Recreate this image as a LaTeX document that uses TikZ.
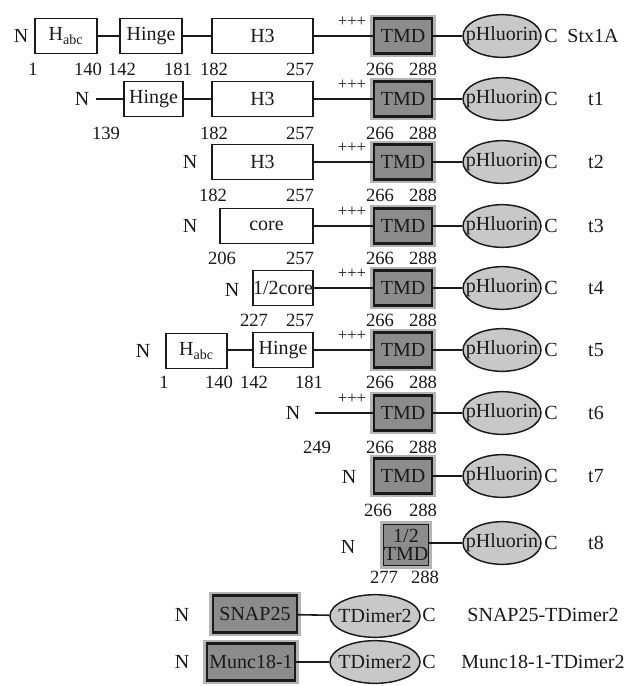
\documentclass[tikz,border=0pt]{standalone}
\usepackage{fontspec}
\setmainfont{Liberation Serif}
\usetikzlibrary{shapes.geometric}
\definecolor{tmdgray}{HTML}{8C8C8C}
\definecolor{halogray}{HTML}{B4B4B4}
\definecolor{ellgray}{HTML}{C8C8C8}
\definecolor{ink}{HTML}{1A1A1A}
\begin{document}
\begin{tikzpicture}[x=0.75pt,y=-0.75pt,
 every node/.style={font=\fontsize{15}{17}\selectfont, text=ink},
 wbox/.style={draw=ink, line width=1.1pt, fill=white, minimum height=26.25pt, inner sep=0pt},
 tmdbox/.style={draw=ink, line width=1.6pt, fill=tmdgray, minimum height=26.25pt, minimum width=43.5pt, inner sep=0pt, preaction={draw=halogray, line width=5.5pt}},
 fp/.style={ellipse, draw=ink, line width=1.1pt, fill=ellgray, minimum width=58.5pt, minimum height=32pt, inner xsep=-6.4pt, inner ysep=0pt},
 td/.style={fp, minimum width=67.5pt, minimum height=32pt, inner xsep=-3.6pt},
 conn/.style={draw=ink, line width=1.2pt},
 num/.style={inner sep=0pt, font=\fontsize{14}{16}\selectfont},
 plus/.style={font=\fontsize{12.5}{13}\selectfont, inner sep=0pt},
 lab/.style={inner sep=0pt}]
\useasboundingbox (0,0) rectangle (624,686);

% ---------- Stx1A ----------
\node[lab] (r1N) at (21,36) {N};
\node[wbox, minimum width=46.5pt] (r1habc) at (66,36) {H\textsubscript{abc}};
\node[wbox, minimum width=46.5pt] (r1hinge) at (151,36) {Hinge};
\node[wbox, minimum width=75.75pt] (r1h3) at (262.5,36) {H3};
\node[tmdbox] (r1tmd) at (403,36) {TMD};
\node[fp] (r1fp) at (502,36) {pHluorin};
\node[lab] (r1C) at (551,36) {C};
\node[lab] (r1lab) at (593,36) {Stx1A};
\node[plus] (r1p) at (352,22) {+++};
\draw[conn] (r1habc) -- (r1hinge);
\draw[conn] (r1hinge) -- (r1h3);
\draw[conn] (r1h3) -- (r1tmd);
\draw[conn] (r1tmd) -- (r1fp);
\node[num] (r1n1) at (33,69) {1};
\node[num] (r1n2) at (88,69) {140};
\node[num] (r1n3) at (122,69) {142};
\node[num] (r1n4) at (178,69) {181};
\node[num] (r1n5) at (214,69) {182};
\node[num] (r1n6) at (300,69) {257};
\node[num] (r1n7) at (380,69) {266};
\node[num] (r1n8) at (423,69) {288};

% ---------- t1 ----------
\node[lab] (t1N) at (82,99) {N};
\coordinate (t1s) at (96,99);
\node[wbox, minimum width=44.25pt] (t1hinge) at (153.5,99) {Hinge};
\node[wbox, minimum width=75.75pt] (t1h3) at (262.5,99) {H3};
\node[tmdbox] (t1tmd) at (403,99) {TMD};
\node[fp] (t1fp) at (502,99) {pHluorin};
\node[lab] (t1C) at (551,99) {C};
\node[lab] (t1lab) at (596,99) {t1};
\node[plus] (t1p) at (352,85) {+++};
\draw[conn] (t1s) -- (t1hinge);
\draw[conn] (t1hinge) -- (t1h3);
\draw[conn] (t1h3) -- (t1tmd);
\draw[conn] (t1tmd) -- (t1fp);
\node[num] (t1n1) at (106,133) {139};
\node[num] (t1n2) at (214,133) {182};
\node[num] (t1n3) at (300,133) {257};
\node[num] (t1n4) at (380,133) {266};
\node[num] (t1n5) at (423,133) {288};

% ---------- t2 ----------
\node[lab] (t2N) at (190,162) {N};
\node[wbox, minimum width=75.75pt] (t2h3) at (262.5,162) {H3};
\node[tmdbox] (t2tmd) at (403,162) {TMD};
\node[fp] (t2fp) at (502,162) {pHluorin};
\node[lab] (t2C) at (551,162) {C};
\node[lab] (t2lab) at (596,162) {t2};
\node[plus] (t2p) at (352,148) {+++};
\draw[conn] (t2h3) -- (t2tmd);
\draw[conn] (t2tmd) -- (t2fp);
\node[num] (t2n1) at (213,195) {182};
\node[num] (t2n2) at (300,195) {257};
\node[num] (t2n3) at (380,195) {266};
\node[num] (t2n4) at (423,195) {288};

% ---------- t3 ----------
\node[lab] (t3N) at (190,226) {N};
\node[wbox, minimum width=69.75pt] (t3core) at (266.5,226) {core};
\node[tmdbox] (t3tmd) at (403,226) {TMD};
\node[fp] (t3fp) at (502,226) {pHluorin};
\node[lab] (t3C) at (551,226) {C};
\node[lab] (t3lab) at (596,226) {t3};
\node[plus] (t3p) at (352,212) {+++};
\draw[conn] (t3core) -- (t3tmd);
\draw[conn] (t3tmd) -- (t3fp);
\node[num] (t3n1) at (222,258) {206};
\node[num] (t3n2) at (300,258) {257};
\node[num] (t3n3) at (380,258) {266};
\node[num] (t3n4) at (423,258) {288};

% ---------- t4 ----------
\node[lab] (t4N) at (232,290) {N};
\node[wbox, minimum width=45pt] (t4core) at (283,288) {1/2core};
\node[tmdbox] (t4tmd) at (403,288) {TMD};
\node[fp] (t4fp) at (502,288) {pHluorin};
\node[lab] (t4C) at (551,288) {C};
\node[lab] (t4lab) at (596,288) {t4};
\node[plus] (t4p) at (352,274) {+++};
\draw[conn] (t4core) -- (t4tmd);
\draw[conn] (t4tmd) -- (t4fp);
\node[num] (t4n1) at (254,320) {227};
\node[num] (t4n2) at (300,320) {257};
\node[num] (t4n3) at (380,320) {266};
\node[num] (t4n4) at (423,320) {288};

% ---------- t5 ----------
\node[lab] (t5N) at (143,351) {N};
\node[wbox, minimum width=45.75pt] (t5habc) at (196.5,351) {H\textsubscript{abc}};
\node[wbox, minimum width=45pt] (t5hinge) at (283,350) {Hinge};
\node[tmdbox] (t5tmd) at (403,350) {TMD};
\node[fp] (t5fp) at (502,350) {pHluorin};
\node[lab] (t5C) at (551,350) {C};
\node[lab] (t5lab) at (596,350) {t5};
\node[plus] (t5p) at (352,336) {+++};
\draw[conn] (t5habc.east |- t5hinge) -- (t5hinge);
\draw[conn] (t5hinge) -- (t5tmd);
\draw[conn] (t5tmd) -- (t5fp);
\node[num] (t5n1) at (164,382) {1};
\node[num] (t5n2) at (219,382) {140};
\node[num] (t5n3) at (254,382) {142};
\node[num] (t5n4) at (309,382) {181};
\node[num] (t5n5) at (380,382) {266};
\node[num] (t5n6) at (423,382) {288};

% ---------- t6 ----------
\node[lab] (t6N) at (293,413) {N};
\coordinate (t6s) at (315,413);
\node[tmdbox] (t6tmd) at (403,413) {TMD};
\node[fp] (t6fp) at (502,413) {pHluorin};
\node[lab] (t6C) at (551,413) {C};
\node[lab] (t6lab) at (596,413) {t6};
\node[plus] (t6p) at (352,399) {+++};
\draw[conn] (t6s) -- (t6tmd);
\draw[conn] (t6tmd) -- (t6fp);
\node[num] (t6n1) at (317,447) {249};
\node[num] (t6n2) at (380,447) {266};
\node[num] (t6n3) at (423,447) {288};

% ---------- t7 ----------
\node[lab] (t7N) at (349,477) {N};
\node[tmdbox] (t7tmd) at (403,476) {TMD};
\node[fp] (t7fp) at (502,476) {pHluorin};
\node[lab] (t7C) at (551,476) {C};
\node[lab] (t7lab) at (596,476) {t7};
\draw[conn] (t7tmd) -- (t7fp);
\node[num] (t7n1) at (378,510) {266};
\node[num] (t7n2) at (423,510) {288};

% ---------- t8 ----------
\node[lab] (t8N) at (348,547) {N};
\node[tmdbox, line width=1pt, minimum width=31.5pt, minimum height=31pt, align=center, font=\fontsize{15}{14}\selectfont] (t8tmd) at (406,545) {1/2\\TMD};
\node[fp] (t8fp) at (502,543) {pHluorin};
\node[lab] (t8C) at (551,543) {C};
\node[lab] (t8lab) at (596,543) {t8};
\draw[conn] (t8tmd.east |- t8fp) -- (t8fp);
\node[num] (t8n1) at (384,577) {277};
\node[num] (t8n2) at (425,577) {288};

% ---------- SNAP25-TDimer2 ----------
\node[lab] (s1N) at (182,615) {N};
\node[tmdbox, minimum width=63pt, minimum height=27.75pt] (snap) at (255,614) {SNAP25};
\node[td] (s1fp) at (375,616) {TDimer2};
\node[lab] (s1C) at (429,615) {C};
\node[lab] (s1lab) at (543,615) {SNAP25-TDimer2};
\draw[conn] (snap) -- (s1fp);

% ---------- Munc18-1-TDimer2 ----------
\node[lab] (m1N) at (182,662) {N};
\node[tmdbox, minimum width=66pt, minimum height=27.75pt] (munc) at (251,662) {Munc18-1};
\node[td] (m1fp) at (375,662) {TDimer2};
\node[lab] (m1C) at (429,662) {C};
\node[lab] (m1lab) at (543,662) {Munc18-1-TDimer2};
\draw[conn] (munc) -- (m1fp);
\end{tikzpicture}
\end{document}
